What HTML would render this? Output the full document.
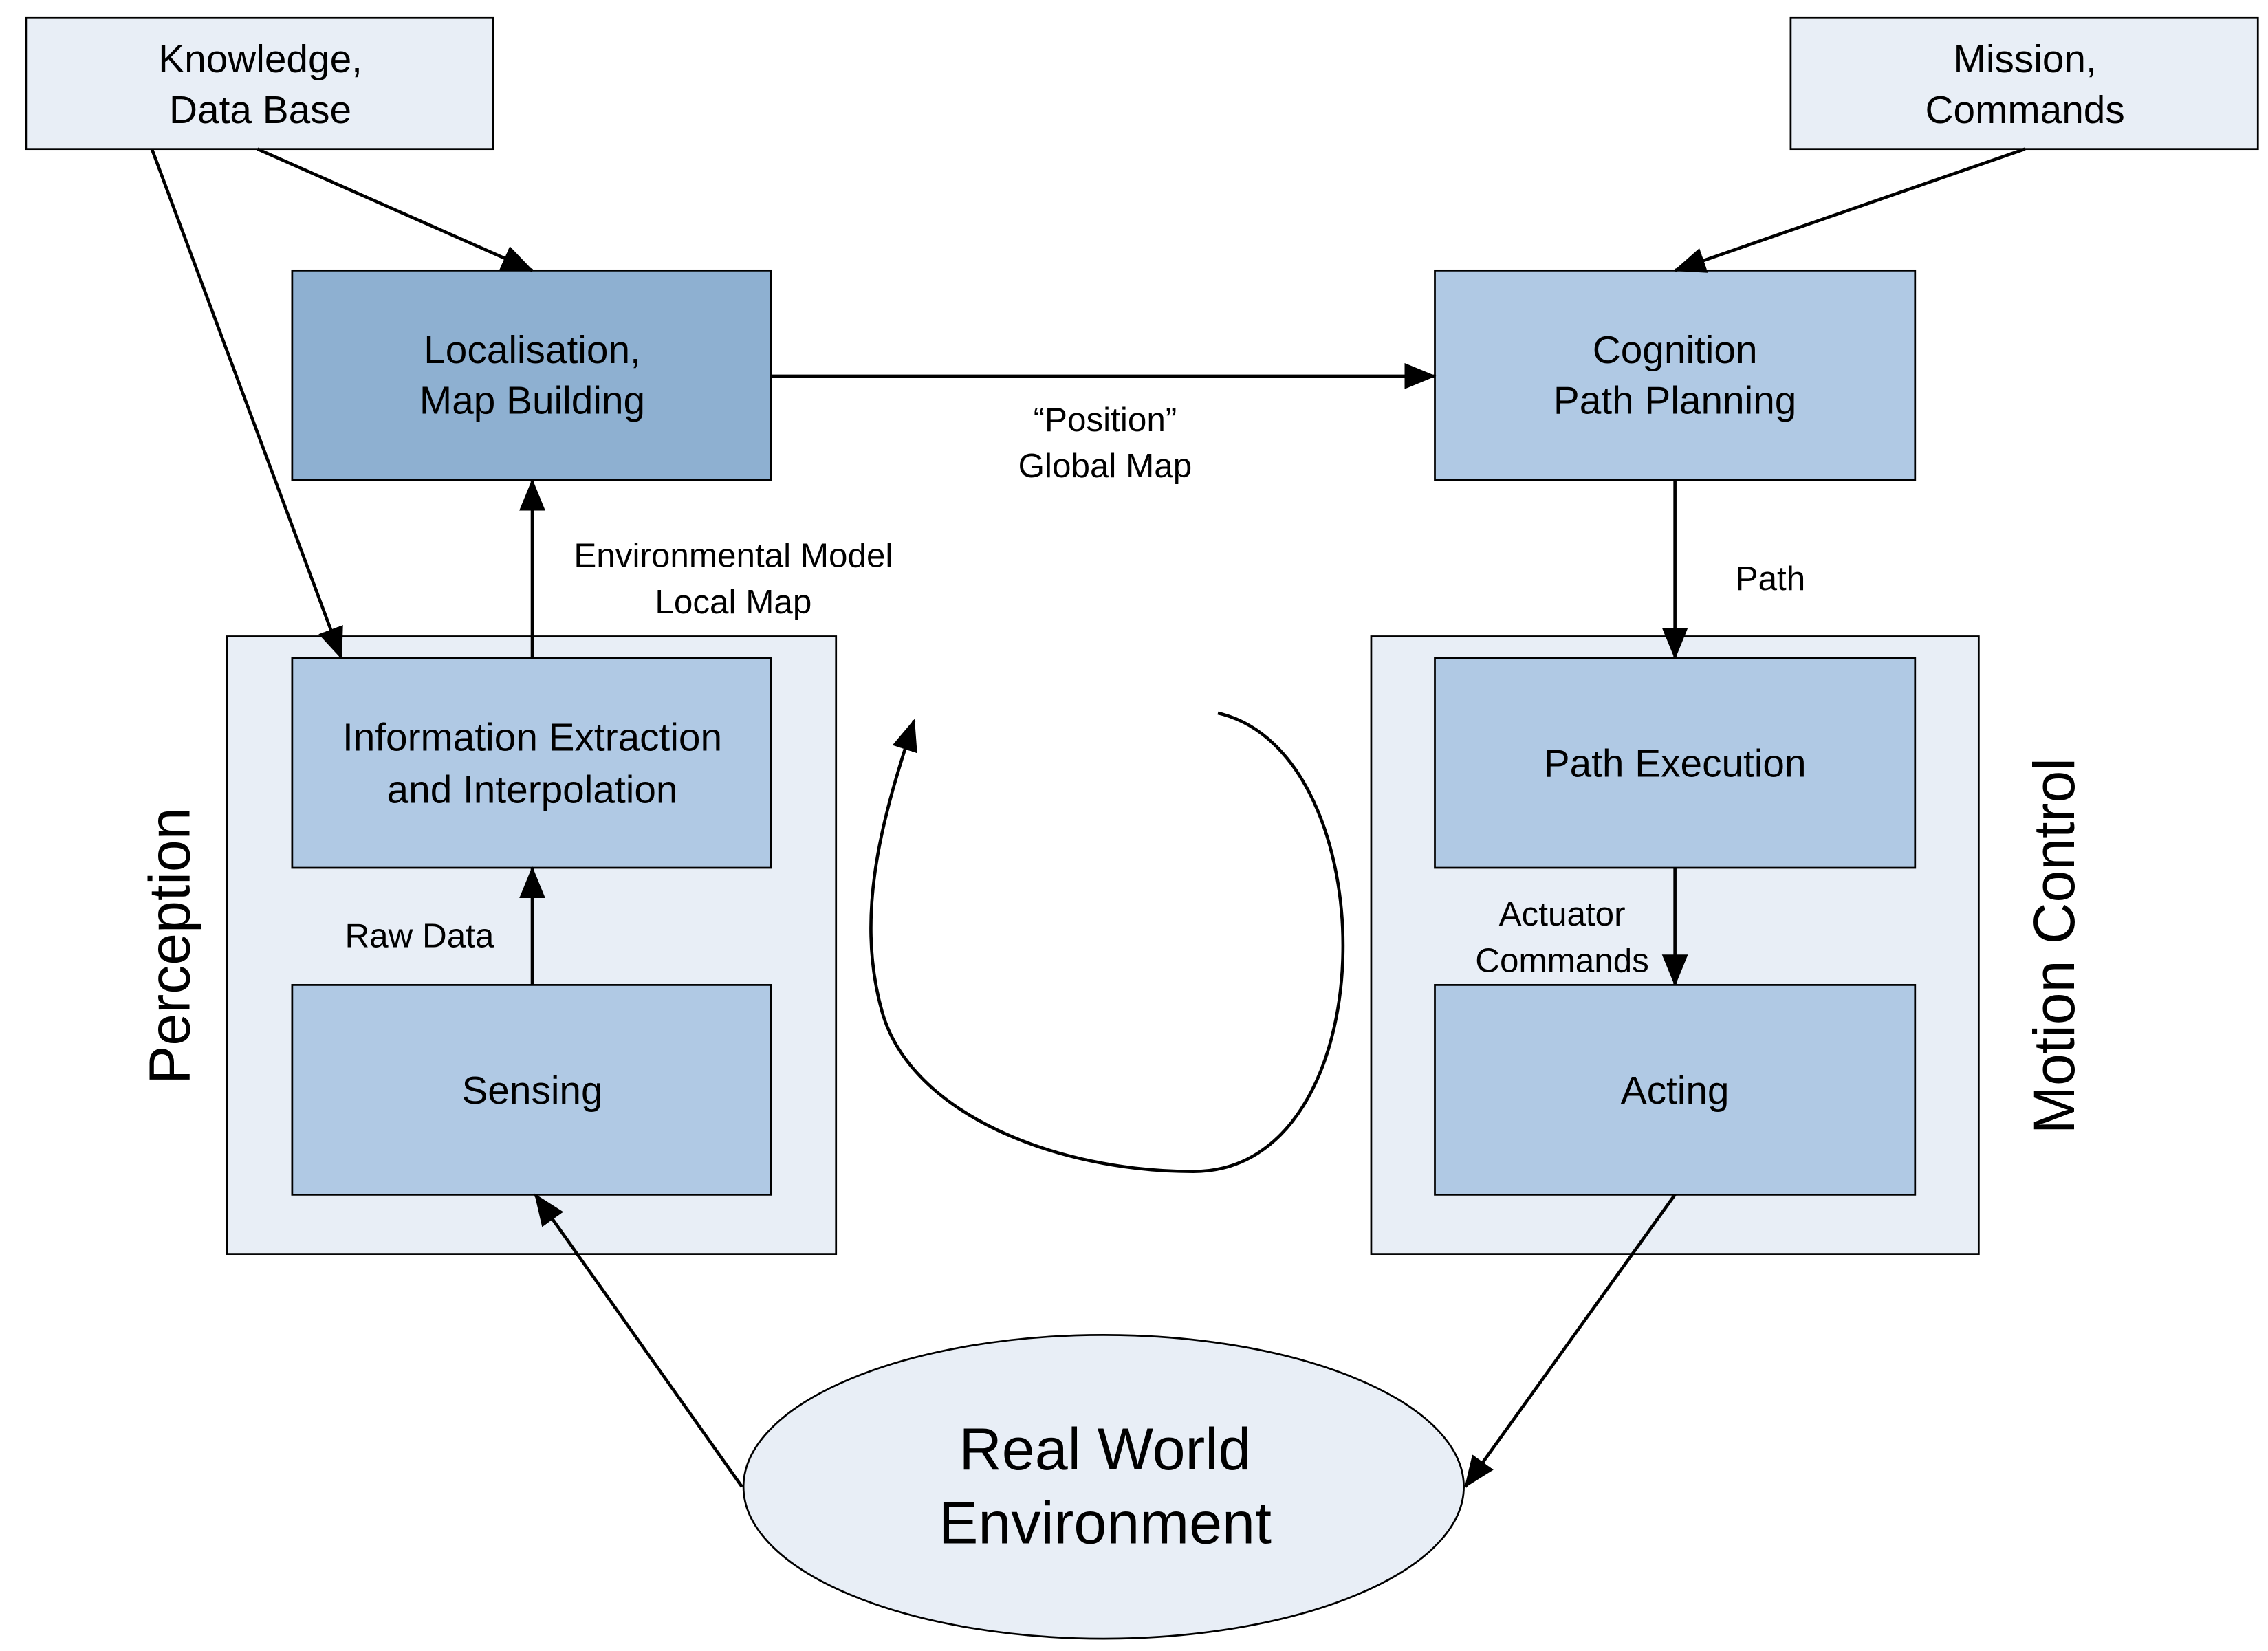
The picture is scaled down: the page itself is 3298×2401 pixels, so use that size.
<!DOCTYPE html>
<html><head><style>html,body{margin:0;padding:0;background:#fff}svg{display:block}</style></head>
<body>
<svg width="3298" height="2401" viewBox="0 0 1568 1141.5" xmlns="http://www.w3.org/2000/svg" font-family="Liberation Sans, Arial, sans-serif">
<defs>
<marker id="b" markerWidth="22" markerHeight="18" refX="21" refY="9" orient="auto" markerUnits="userSpaceOnUse" viewBox="0 0 22 18">
<path d="M0,0 L22,9 L0,18 z" fill="#000"/></marker>
</defs>
<g stroke="#000" stroke-width="1.3">
<rect x="18" y="12" width="323" height="91" fill="#e8eef6"/>
<rect x="1238" y="12" width="323" height="91" fill="#e8eef6"/>
<rect x="157" y="440" width="421" height="427" fill="#e8eef6"/>
<rect x="948" y="440" width="420" height="427" fill="#e8eef6"/>
<rect x="202" y="187" width="331" height="145" fill="#8eb0d1"/>
<rect x="992" y="187" width="332" height="145" fill="#b0c9e4"/>
<rect x="202" y="455" width="331" height="145" fill="#b0c9e4"/>
<rect x="202" y="681" width="331" height="145" fill="#b0c9e4"/>
<rect x="992" y="455" width="332" height="145" fill="#b0c9e4"/>
<rect x="992" y="681" width="332" height="145" fill="#b0c9e4"/>
<ellipse cx="763" cy="1028" rx="249" ry="105" fill="#e8eef6"/>
</g>
<g stroke="#000" stroke-width="2.2" fill="none" marker-end="url(#b)">
<line x1="105" y1="103" x2="236" y2="455"/>
<line x1="178" y1="103" x2="368" y2="187"/>
<line x1="1400" y1="103" x2="1158" y2="187"/>
<line x1="533" y1="260" x2="992" y2="260"/>
<line x1="368" y1="455" x2="368" y2="332"/>
<line x1="368" y1="681" x2="368" y2="600"/>
<line x1="1158" y1="332" x2="1158" y2="455"/>
<line x1="1158" y1="600" x2="1158" y2="681"/>
<line x1="513" y1="1028" x2="370" y2="826"/>
<line x1="1158" y1="826" x2="1013" y2="1028"/>
<path d="M842,493 C960,520 960,810 825,810 C730,810 630,770 610,700 C590,630 612,560 632,498"/>
</g>
<g font-size="27" text-anchor="middle" fill="#000" textLength="0">
<text x="180" y="50">Knowledge,</text><text x="180" y="85">Data Base</text>
<text x="1400" y="50">Mission,</text><text x="1400" y="85">Commands</text>
<text x="368" y="251">Localisation,</text><text x="368" y="286">Map Building</text>
<text x="1158" y="251">Cognition</text><text x="1158" y="286">Path Planning</text>
<text x="368" y="519">Information Extraction</text><text x="368" y="555">and Interpolation</text>
<text x="368" y="763">Sensing</text>
<text x="1158" y="537">Path Execution</text>
<text x="1158" y="763">Acting</text>
</g>
<g font-size="23.5" text-anchor="middle" fill="#000">
<text x="764" y="298">“Position”</text><text x="764" y="330">Global Map</text>
<text x="507" y="392">Environmental Model</text><text x="507" y="424">Local Map</text>
<text x="290" y="655">Raw Data</text>
<text x="1224" y="408">Path</text>
<text x="1080" y="640">Actuator</text><text x="1080" y="672">Commands</text>
</g>
<g font-size="41" text-anchor="middle" fill="#000">
<text x="764" y="1016">Real World</text><text x="764" y="1067">Environment</text>
</g>
<text transform="translate(131,654) rotate(-90)" font-size="40" text-anchor="middle">Perception</text>
<text transform="translate(1434,654) rotate(-90)" font-size="40" text-anchor="middle">Motion Control</text>
</svg>
</body></html>
